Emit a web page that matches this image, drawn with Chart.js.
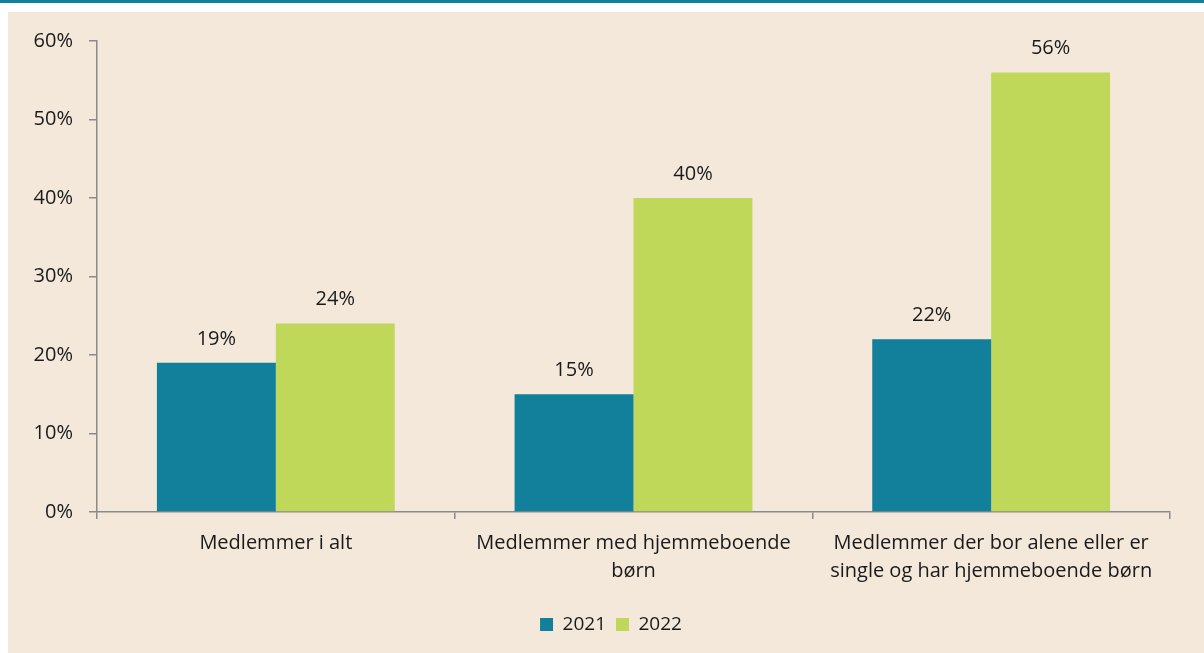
<!DOCTYPE html>
<html>
<head>
<meta charset="utf-8">
<script src="https://cdn.jsdelivr.net/npm/chart.js@4"></script>
<style>
  html, body { margin: 0; padding: 0; background: #ffffff; width: 1204px; height: 653px; overflow: hidden; }
  #band { position: absolute; left: 0; top: 0; width: 1204px; height: 3px; background: #127F9B; }
  #wrap { position: absolute; left: 8px; top: 12px; width: 1196px; height: 641px; background: #F4E8DB; }
  canvas { display: block; }
</style>
</head>
<body>
<div id="band"></div>
<div id="wrap"><canvas id="c" width="1196" height="641"></canvas></div>
<script>
const categories = [
  "Medlemmer i alt",
  ["Medlemmer med hjemmeboende", "børn"],
  ["Medlemmer der bor alene eller er", "single og har hjemmeboende børn"]
];
const seriesNames = ["2021", "2022"];
const values2021 = [19, 15, 22];
const values2022 = [24, 40, 56];
const yTicks = [0, 10, 20, 30, 40, 50, 60];

const FONT = "'Open Sans', 'Noto Sans', sans-serif";
const TEXT = "#1a1a1a";
const AXIS = "#8a8a8a";

const labelPlugin = {
  id: 'valueLabels',
  afterDatasetsDraw(chart) {
    const ctx = chart.ctx;
    ctx.save();
    ctx.font = "20px " + FONT;
    ctx.fillStyle = TEXT;
    ctx.textAlign = 'center';
    ctx.textBaseline = 'middle';
    chart.data.datasets.forEach((ds, i) => {
      const meta = chart.getDatasetMeta(i);
      meta.data.forEach((bar, j) => {
        ctx.fillText(ds.data[j] + '%', bar.x, bar.y - 24);
      });
    });
    ctx.restore();
  }
};

const legendShift = {
  id: 'legendShift',
  afterLayout(chart) {
    if (chart.legend) {
      chart.legend.left += 22;
      chart.legend.right += 22;
    }
  }
};

new Chart(document.getElementById('c'), {
  type: 'bar',
  data: {
    labels: categories,
    datasets: [
      { label: seriesNames[0], data: values2021, backgroundColor: '#127F9B', categoryPercentage: 0.665, barPercentage: 1.0 },
      { label: seriesNames[1], data: values2022, backgroundColor: '#BFD85A', categoryPercentage: 0.665, barPercentage: 1.0 }
    ]
  },
  options: {
    responsive: false,
    animation: false,
    devicePixelRatio: 1,
    layout: { padding: { top: 29, right: 34, bottom: 9, left: 0 } },
    plugins: {
      legend: {
        position: 'bottom',
        labels: {
          font: { family: FONT, size: 19 },
          color: TEXT,
          boxWidth: 13,
          boxHeight: 13,
          padding: 10
        }
      },
      tooltip: { enabled: false }
    },
    scales: {
      x: {
        afterFit(scale) { scale.height = 93; },
        grid: { display: true, drawOnChartArea: false, offset: true, tickLength: 7, color: AXIS, lineWidth: 1.5 },
        border: { display: true, color: AXIS, width: 1.5 },
        ticks: {
          font: { family: FONT, size: 20, lineHeight: '28px' },
          color: TEXT,
          padding: 10,
          maxRotation: 0,
          autoSkip: false
        }
      },
      y: {
        min: 0,
        max: 60,
        afterFit(scale) { scale.width = 89; },
        afterBuildTicks(scale) { scale.ticks = yTicks.map(v => ({ value: v })); },
        grid: { display: true, drawOnChartArea: false, tickLength: 8, color: AXIS, lineWidth: 1.5 },
        border: { display: true, color: AXIS, width: 1.5 },
        ticks: {
          font: { family: FONT, size: 20 },
          color: TEXT,
          padding: 16,
          callback: v => v + '%'
        }
      }
    }
  },
  plugins: [labelPlugin, legendShift]
});
</script>
</body>
</html>
